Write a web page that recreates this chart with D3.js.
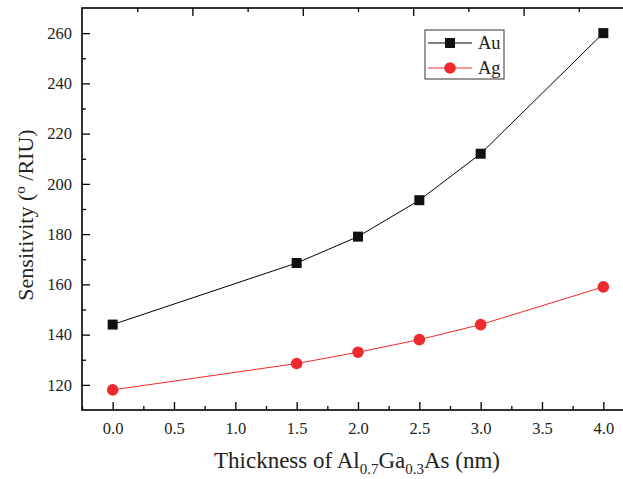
<!DOCTYPE html>
<html>
<head>
<meta charset="utf-8">
<script src="https://cdn.jsdelivr.net/npm/d3@7"></script>
<style>
  body { margin: 0; background: #fff; }
  svg text { font-family: "Liberation Serif", "Times New Roman", serif; }
</style>
</head>
<body>
<div id="chart"></div>
<script>
const thickness = [0.0, 1.5, 2.0, 2.5, 3.0, 4.0];
const auValues = [144, 168.5, 179, 193.5, 212, 260];
const agValues = [118, 128.5, 133, 138, 144, 159];
const seriesNames = ["Au", "Ag"];
const xTicks = [0, 0.5, 1.0, 1.5, 2.0, 2.5, 3.0, 3.5, 4.0];
const yTicks = [120, 140, 160, 180, 200, 220, 240, 260];

(() => {
const width = 623, height = 479;
const margin = { top: 8, left: 82, bottom: 69 };
const plotRight = 634; // frame runs past the window edge

const svg = d3.select("#chart").append("svg")
  .attr("width", width)
  .attr("height", height);

const x = d3.scaleLinear().domain([-0.25, 4.25]).range([margin.left, plotRight]);
const y = d3.scaleLinear().domain([110, 270]).range([height - margin.bottom, margin.top]);
// top axis has its own even divisions in the original
const xTop = d3.scaleLinear().domain([0, 10]).range([margin.left, plotRight]);

const x0 = margin.left, y0 = height - margin.bottom;

// frame
svg.append("rect")
  .attr("x", x0).attr("y", margin.top)
  .attr("width", plotRight - x0).attr("height", y0 - margin.top)
  .attr("fill", "none").attr("stroke", "#000").attr("stroke-width", 1.6);

// bottom axis
const bottomAxis = svg.append("g").attr("transform", `translate(0,${y0})`);
bottomAxis.call(d3.axisBottom(x).tickValues(xTicks).tickSize(-8).tickPadding(12)
  .tickFormat(d3.format(".1f")));
bottomAxis.append("g").call(d3.axisBottom(x).tickValues(d3.range(-0.25, 4.26, 0.5)).tickSize(-4).tickFormat(""));

// top axis
const topAxis = svg.append("g").attr("transform", `translate(0,${margin.top})`);
topAxis.call(d3.axisTop(xTop).tickValues([2, 4, 6, 8]).tickSize(-8).tickFormat(""));
topAxis.append("g").call(d3.axisTop(xTop).tickValues([1, 3, 5, 7, 9]).tickSize(-4).tickFormat(""));

// left axis
const leftAxis = svg.append("g").attr("transform", `translate(${x0},0)`);
leftAxis.call(d3.axisLeft(y).tickValues(yTicks).tickSize(-8).tickPadding(10));
leftAxis.append("g").call(d3.axisLeft(y).tickValues(d3.range(130, 270, 20)).tickSize(-4).tickFormat(""));

svg.selectAll(".domain").remove();
svg.selectAll("g").attr("font-family", null);
svg.selectAll(".tick line").attr("stroke", "#000").attr("stroke-width", 1.3);
svg.selectAll(".tick text")
  .attr("fill", "#222")
  .style("font-size", "16.5px");

// series
const series = [
  { name: seriesNames[0], values: auValues, color: "#000000", shape: "square" },
  { name: seriesNames[1], values: agValues, color: "#ee2a2e", shape: "circle" }
];

const line = d3.line().x(d => x(d[0])).y(d => y(d[1]));

series.forEach(s => {
  const pts = thickness.map((t, i) => [t, s.values[i]]);
  svg.append("path")
    .attr("d", line(pts))
    .attr("fill", "none")
    .attr("stroke", s.color)
    .attr("stroke-width", 1);
  if (s.shape === "square") {
    svg.selectAll(null).data(pts).enter().append("rect")
      .attr("x", d => x(d[0]) - 5).attr("y", d => y(d[1]) - 5)
      .attr("width", 10).attr("height", 10)
      .attr("fill", "#111");
  } else {
    svg.selectAll(null).data(pts).enter().append("circle")
      .attr("cx", d => x(d[0])).attr("cy", d => y(d[1]))
      .attr("r", 5.8)
      .attr("fill", s.color);
  }
});

// legend
const legend = svg.append("g").attr("transform", "translate(425,30)");
legend.append("rect")
  .attr("width", 79).attr("height", 49)
  .attr("fill", "#fff").attr("stroke", "#333").attr("stroke-width", 1);
series.forEach((s, i) => {
  const ly = 13 + i * 25;
  legend.append("line")
    .attr("x1", 3).attr("x2", 47).attr("y1", ly).attr("y2", ly)
    .attr("stroke", s.color).attr("stroke-width", 1);
  if (s.shape === "square") {
    legend.append("rect").attr("x", 20).attr("y", ly - 5).attr("width", 10).attr("height", 10).attr("fill", "#111");
  } else {
    legend.append("circle").attr("cx", 25).attr("cy", ly).attr("r", 5.8).attr("fill", s.color);
  }
  legend.append("text")
    .attr("x", 53).attr("y", ly + 6)
    .style("font-size", "18.5px")
    .attr("fill", "#222")
    .text(s.name);
});

// axis titles
const xt = svg.append("text")
  .attr("x", 357).attr("y", 468)
  .attr("text-anchor", "middle")
  .style("font-size", "23px")
  .attr("fill", "#222");
xt.append("tspan").text("Thickness of Al");
xt.append("tspan").attr("dy", 6).style("font-size", "15px").text("0.7");
xt.append("tspan").attr("dy", -6).text("Ga");
xt.append("tspan").attr("dy", 6).style("font-size", "15px").text("0.3");
xt.append("tspan").attr("dy", -6).text("As (nm)");

const yt = svg.append("text")
  .attr("transform", "translate(33,215) rotate(-90)")
  .attr("text-anchor", "middle")
  .style("font-size", "22px")
  .attr("fill", "#222");
yt.append("tspan").text("Sensitivity (");
yt.append("tspan").attr("dy", -8).style("font-size", "15px").text("o");
yt.append("tspan").attr("dy", 8).text(" /RIU)");
})();
</script>
</body>
</html>
